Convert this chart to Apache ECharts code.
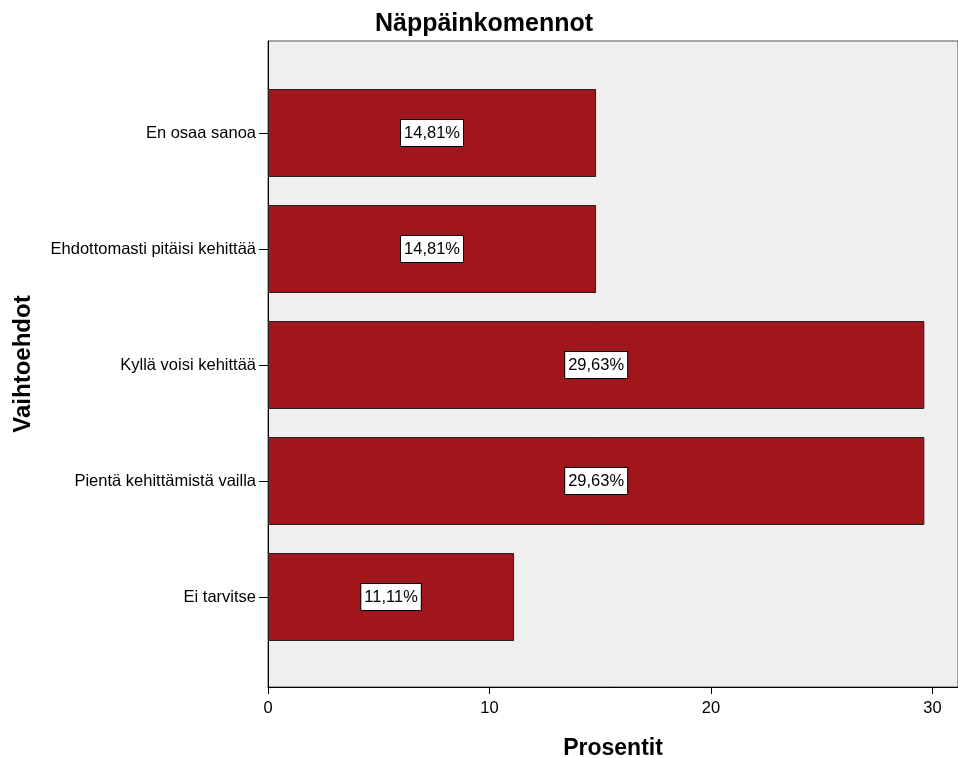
<!DOCTYPE html>
<html>
<head>
<meta charset="utf-8">
<style>
  html, body { margin: 0; padding: 0; background: #fff; }
  #chart { width: 958px; height: 758px; }
</style>
<script src="https://cdn.jsdelivr.net/npm/echarts@6/dist/echarts.min.js"></script>
</head>
<body>
<div id="chart"></div>
<script>
// Response options, top to bottom
const categories = [
  'En osaa sanoa',
  'Ehdottomasti pitäisi kehittää',
  'Kyllä voisi kehittää',
  'Pientä kehittämistä vailla',
  'Ei tarvitse'
];
// Share of respondents, percent
const percentages = [14.81, 14.81, 29.63, 29.63, 11.11];
const xTicks = [0, 10, 20, 30];

const FONT = 'Liberation Sans, Arial, sans-serif';
const X_MAX = 31.15;

const chart = echarts.init(document.getElementById('chart'), null, { renderer: 'canvas' });

chart.setOption({
  animation: false,
  backgroundColor: '#ffffff',
  title: {
    text: 'Näppäinkomennot',
    left: 479,
    top: 7,
    textAlign: 'center',
    textStyle: { fontFamily: FONT, fontSize: 25, fontWeight: 'bold', color: '#000' }
  },
  grid: [
    // plot frame with the value axis
    { left: 268, right: 0, top: 41, bottom: 71, show: true, outerBoundsMode: 'none',
      backgroundColor: '#efefef', borderColor: '#555', borderWidth: 1, containLabel: false },
    // band area for the bars
    { left: 268, right: 0, top: 75, height: 580, outerBoundsMode: 'none', containLabel: false }
  ],
  xAxis: [
    {
      gridIndex: 0, type: 'value', min: 0, max: X_MAX, interval: 10,
      name: 'Prosentit', nameLocation: 'middle', nameGap: 50,
      nameTextStyle: { fontFamily: FONT, fontSize: 23, fontWeight: 'bold', color: '#000' },
      axisLine: { show: true, lineStyle: { color: '#000', width: 1 } },
      axisTick: { show: true, length: 7, lineStyle: { color: '#000' } },
      axisLabel: {
        show: true, showMaxLabel: false, margin: 13,
        fontFamily: FONT, fontSize: 16.5, color: '#000',
        formatter: v => (xTicks.indexOf(v) >= 0 ? String(v) : '')
      },
      splitLine: { show: false }
    },
    {
      gridIndex: 1, type: 'value', min: 0, max: X_MAX,
      axisLine: { show: false }, axisTick: { show: false },
      axisLabel: { show: false }, splitLine: { show: false }
    }
  ],
  yAxis: [
    {
      gridIndex: 0, type: 'value', min: 0, max: 1,
      name: 'Vaihtoehdot', nameLocation: 'middle', nameGap: 233, nameRotate: 90,
      nameTextStyle: { fontFamily: FONT, fontSize: 24, fontWeight: 'bold', color: '#000' },
      axisLine: { show: true, lineStyle: { color: '#000', width: 1 } },
      axisTick: { show: false }, axisLabel: { show: false }, splitLine: { show: false }
    },
    {
      gridIndex: 1, type: 'category', inverse: true, data: categories,
      axisLine: { show: false },
      axisTick: { show: true, alignWithLabel: true, length: 9, lineStyle: { color: '#000' } },
      axisLabel: { margin: 12, fontFamily: FONT, fontSize: 16.5, color: '#000' }
    }
  ],
  series: [
    {
      type: 'bar',
      xAxisIndex: 1,
      yAxisIndex: 1,
      data: percentages,
      barWidth: 88,
      itemStyle: {
        color: '#a0161a',
        borderColor: '#222',
        borderWidth: 1
      },
      label: {
        show: true,
        position: 'inside',
        formatter: p => p.value.toFixed(2).replace('.', ',') + '%',
        fontFamily: FONT,
        fontSize: 16.5,
        color: '#000',
        backgroundColor: '#fff',
        borderColor: '#000',
        borderWidth: 1,
        padding: [5, 3, 4, 3]
      }
    }
  ]
});
</script>
</body>
</html>
